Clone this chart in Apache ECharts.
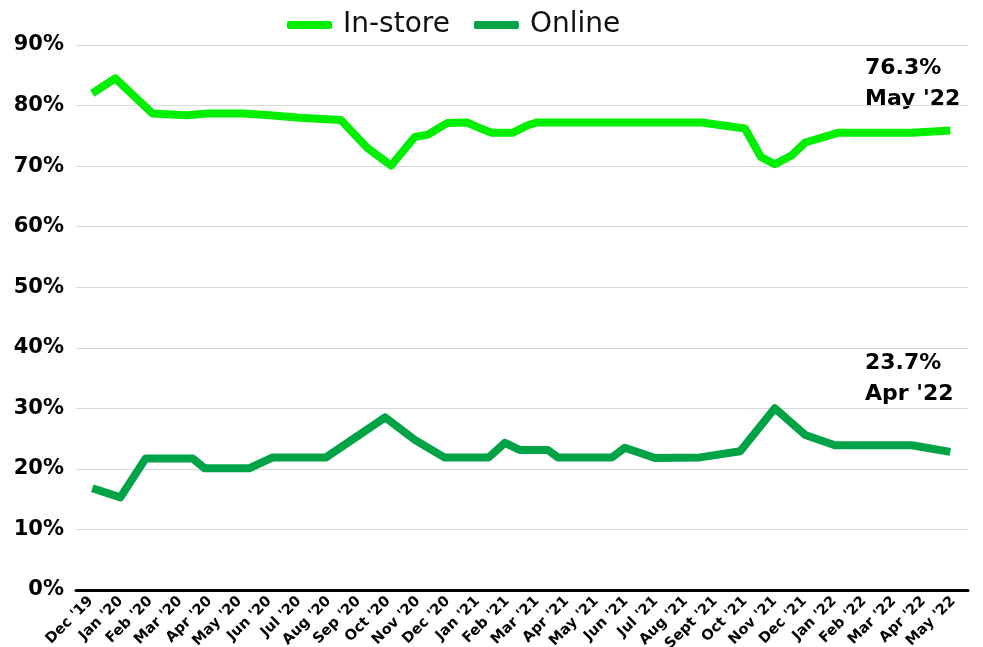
<!DOCTYPE html>
<html>
<head>
<meta charset="utf-8">
<script src="https://cdn.jsdelivr.net/npm/echarts@6/dist/echarts.min.js"></script>
<style>html,body{margin:0;padding:0;background:#fff}#c{width:983px;height:647px}</style>
</head>
<body>
<div id="c"></div>
<script>
// Month labels (category axis)
var months = ["Dec '19","Jan '20","Feb '20","Mar '20","Apr '20","May '20","Jun '20","Jul '20","Aug '20","Sep '20","Oct '20","Nov '20","Dec '20","Jan '21","Feb '21","Mar '21","Apr '21","May '21","Jun '21","Jul '21","Aug '21","Sept '21","Oct '21","Nov '21","Dec '21","Jan '22","Feb '22","Mar '22","Apr '22","May '22"];
var yTicks = [0,10,20,30,40,50,60,70,80,90];

// In-store: positions in months since Dec '19, and share (%)
var inStoreT = [0, 0.78, 2.03, 3.2, 3.9, 5.1, 6, 7, 8.4, 9.3, 10.1, 10.9, 11.35, 11.65, 12, 12.67, 13.04, 13.5, 14.2, 14.7, 15.03, 20.6, 22.06, 22.6, 23.07, 23.65, 24.1, 25.2, 27.7, 29];
var inStoreV = [82.0, 84.5, 78.7, 78.4, 78.7, 78.7, 78.4, 78.0, 77.6, 73.0, 70.1, 74.8, 75.2, 76.1, 77.1, 77.2, 76.4, 75.5, 75.5, 76.7, 77.2, 77.2, 76.2, 71.5, 70.3, 71.8, 73.9, 75.5, 75.5, 75.9];

// Online
var onlineT = [0, 0.95, 1.8, 3.4, 3.8, 5.3, 6.1, 7.9, 9.9, 10.9, 11.9, 13.4, 13.95, 14.46, 15.4, 15.74, 17.57, 18, 19.02, 20.54, 21.9, 23.07, 24.1, 25.1, 27.7, 29];
var onlineV = [16.8, 15.3, 21.7, 21.7, 20.1, 20.1, 21.9, 21.9, 28.5, 24.8, 21.9, 21.9, 24.3, 23.1, 23.1, 21.9, 21.9, 23.5, 21.8, 21.9, 22.9, 30.0, 25.6, 23.9, 23.9, 22.8];

var notes = [["76.3%", "May '22"], ["23.7%", "Apr '22"]];

function pairs(t, v){ return t.map(function(x,i){ return [x, v[i]]; }); }

var chart = echarts.init(document.getElementById('c'));
chart.setOption({
  animation: false,
  backgroundColor: '#fff',
  legend: {
    top: 6, left: 282,
    icon: 'roundRect', itemWidth: 45, itemHeight: 8, itemGap: 24,
    textStyle: {fontFamily: 'DejaVu Sans', fontSize: 28, color: '#111', padding: [0,0,0,6]},
    data: ['In-store', 'Online']
  },
  grid: {left: 76, right: 15, top: 45, bottom: 57, containLabel: false, outerBoundsMode: 'none'},
  xAxis: [{
    type: 'category', data: months, boundaryGap: true,
    axisLine: {show: true, lineStyle: {color: '#000', width: 3}},
    axisTick: {show: false},
    axisLabel: {rotate: 45, interval: 0, margin: 9, fontFamily: 'DejaVu Sans', fontWeight: 'bold', fontSize: 14.5, color: '#000'}
  }, {
    type: 'value', min: -0.55, max: 29.6, show: false
  }],
  yAxis: {
    type: 'value', min: yTicks[0], max: yTicks[yTicks.length-1], interval: 10,
    axisLine: {show: false}, axisTick: {show: false},
    splitLine: {lineStyle: {color: '#d9d9d9', width: 1}},
    axisLabel: {formatter: '{value}%', fontFamily: 'DejaVu Sans', fontWeight: 'bold', fontSize: 21, color: '#000', margin: 12}
  },
  series: [{
    name: 'In-store', type: 'line', xAxisIndex: 1, data: pairs(inStoreT, inStoreV),
    showSymbol: false, symbol: 'none', color: '#00ee00',
    lineStyle: {width: 8, color: '#00ee00', join: 'round'}
  }, {
    name: 'Online', type: 'line', xAxisIndex: 1, data: pairs(onlineT, onlineV),
    showSymbol: false, symbol: 'none', color: '#00a446',
    lineStyle: {width: 8, color: '#00a446', join: 'round'}
  }],
  graphic: [
    {type: 'text', left: 865, top: 53, style: {text: notes[0][0] + '\n' + notes[0][1], font: 'bold 22px "DejaVu Sans"', fill: '#000', lineHeight: 31}},
    {type: 'text', left: 865, top: 348, style: {text: notes[1][0] + '\n' + notes[1][1], font: 'bold 22px "DejaVu Sans"', fill: '#000', lineHeight: 31}}
  ]
});
</script>
</body>
</html>
